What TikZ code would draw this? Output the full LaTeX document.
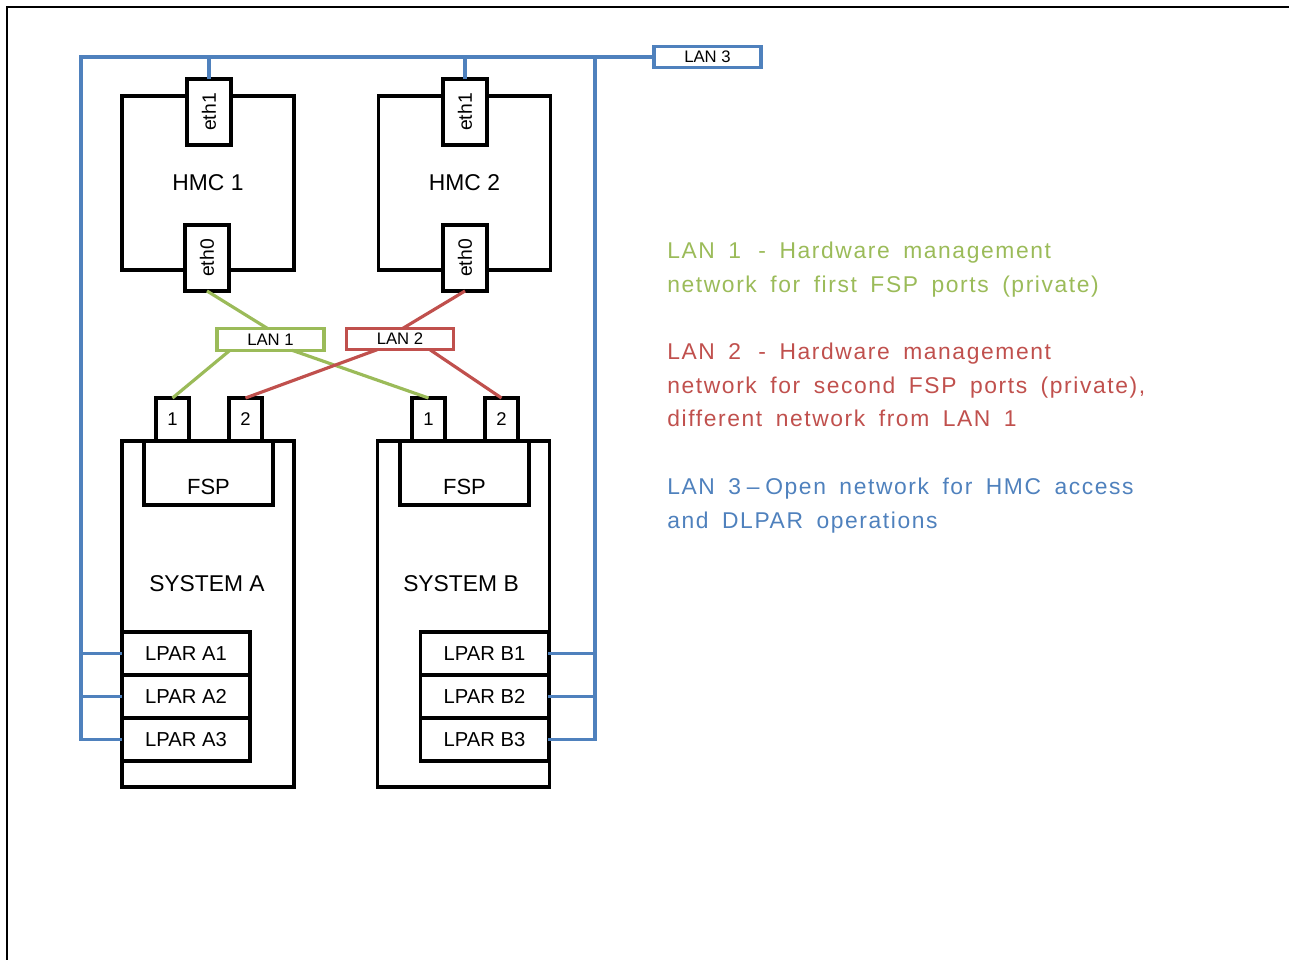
\documentclass[tikz,border=0pt]{standalone}
\usepackage{fontspec}
\usepackage{graphicx}
\setmainfont{Liberation Sans}
\newfontfamily\legendfont[LetterSpace=7,WordSpace=1.7]{Liberation Sans}
\usetikzlibrary{positioning}

\definecolor{langreen}{RGB}{155,187,89}
\definecolor{lanred}{RGB}{192,80,77}
\definecolor{lanblue}{RGB}{79,129,189}

\begin{document}
\begin{tikzpicture}[
    x=0.02cm, y=-0.02cm,
    box/.style={
        draw,
        fill=white,
        inner sep=0pt,
        outer sep=0pt,
        line width=2pt
    },
    hmcbox/.style={box, minimum width=3.44cm, minimum height=3.48cm, font=\fontsize{13}{15}\selectfont},
    ethbox/.style={box, minimum width=0.88cm, minimum height=1.32cm, font=\fontsize{11}{13}\selectfont},
    portbox/.style={box, minimum width=0.66cm, minimum height=0.86cm, font=\fontsize{10.5}{12}\selectfont},
    sysbox/.style={box, minimum width=3.44cm, minimum height=6.92cm},
    fspbox/.style={box, minimum width=2.58cm, text height=1.06cm, text depth=0.22cm, font=\fontsize{12.5}{14}\selectfont},
    lparbox/.style={box, minimum width=2.56cm, minimum height=0.86cm, font=\fontsize{11.5}{13}\selectfont},
    lanbox/.style={box, line width=1.8pt, minimum width=2.14cm, minimum height=0.43cm, font=\fontsize{9.5}{11}\selectfont},
    sysname/.style={font=\fontsize{13}{15}\selectfont},
    legend/.style={align=left, inner sep=0pt, anchor=north west, font=\legendfont\fontsize{13}{19}\selectfont},
    lan1line/.style={draw=langreen, line width=1.8pt},
    lan2line/.style={draw=lanred, line width=1.8pt},
    lan3line/.style={draw=lanblue, line width=1.8pt}
]
    \useasboundingbox (0,0) rectangle (1289,960);
    \draw[line width=0.8pt] (7,960) -- (7,7) -- (1289,7);

    % HMCs with their two ports
    \node[hmcbox] (hmc1) at (208,183) {HMC 1};
    \node[hmcbox] (hmc2) at (464.5,183) {HMC 2};
    \node[ethbox] (hmc1eth1) at (209,112) {\rotatebox{90}{eth1}};
    \node[ethbox] (hmc1eth0) at (207,258) {\rotatebox{90}{eth0}};
    \node[ethbox] (hmc2eth1) at (465,112) {\rotatebox{90}{eth1}};
    \node[ethbox] (hmc2eth0) at (465,258) {\rotatebox{90}{eth0}};

    % Managed systems
    \node[sysbox] (sysA) at (208,614) {};
    \node[sysbox] (sysB) at (463.5,614) {};
    \node[sysname] (sysAname) at (207,584) {SYSTEM A};
    \node[sysname] (sysBname) at (461,584) {SYSTEM B};
    \node[fspbox] (fspA) at (208.5,473) {FSP};
    \node[fspbox] (fspB) at (464.5,473) {FSP};
    \node[portbox] (portA1) at (172.5,419.5) {1};
    \node[portbox] (portA2) at (245.5,419.5) {2};
    \node[portbox] (portB1) at (428.5,419.5) {1};
    \node[portbox] (portB2) at (501.5,419.5) {2};

    % Partitions
    \node[lparbox] (lparA1) at (186,653.5) {LPAR A1};
    \node[lparbox, below=0pt of lparA1] (lparA2) {LPAR A2};
    \node[lparbox, below=0pt of lparA2] (lparA3) {LPAR A3};
    \node[lparbox] (lparB1) at (484.5,653.5) {LPAR B1};
    \node[lparbox, below=0pt of lparB1] (lparB2) {LPAR B2};
    \node[lparbox, below=0pt of lparB2] (lparB3) {LPAR B3};

    % Networks
    \node[lanbox, draw=langreen] (lan1) at (270.5,339.5) {LAN 1};
    \node[lanbox, draw=lanred] (lan2) at (400,339) {LAN 2};
    \node[lanbox, draw=lanblue] (lan3) at (707.5,57) {LAN 3};

    % LAN 1 (first FSP ports)
    \draw[lan1line] (hmc1eth0.south) -- ([xshift=-0.05cm]lan1.north);
    \draw[lan1line] ([xshift=-0.81cm]lan1.south) -- (portA1.north);
    \draw[lan1line] ([xshift=0.43cm]lan1.south) -- (portB1.north);

    % LAN 2 (second FSP ports)
    \draw[lan2line] (hmc2eth0.south) -- ([xshift=0.06cm]lan2.north);
    \draw[lan2line] ([xshift=-0.46cm]lan2.south) -- (portA2.north);
    \draw[lan2line] ([xshift=0.6cm]lan2.south) -- (portB2.north);

    % LAN 3 (open network)
    \coordinate (busL) at (81,57);
    \coordinate (busR) at (595,57);
    \draw[lan3line] (lan3.west) -- (busL) |- (lparA3.west);
    \draw[lan3line] (busL |- lparA1.west) -- (lparA1.west);
    \draw[lan3line] (busL |- lparA2.west) -- (lparA2.west);
    \draw[lan3line] (busR) |- (lparB3.east);
    \draw[lan3line] (busR |- lparB1.east) -- (lparB1.east);
    \draw[lan3line] (busR |- lparB2.east) -- (lparB2.east);
    \draw[lan3line] (hmc1eth1.north) -- (hmc1eth1.north |- busL);
    \draw[lan3line] (hmc2eth1.north) -- (hmc2eth1.north |- busL);

    % Legend
    \node[legend, text=langreen] (leg1) at (667,242) {LAN 1 \,- Hardware management\\network for first FSP ports (private)};
    \node[legend, text=lanred] (leg2) at (667,343) {LAN 2 \,- Hardware management\\network for second FSP ports (private),\\different network from LAN 1};
    \node[legend, text=lanblue] (leg3) at (667,478) {LAN 3\hspace{0.25em}\textendash\hspace{0.25em}Open network for HMC access\\and DLPAR operations};
\end{tikzpicture}
\end{document}
